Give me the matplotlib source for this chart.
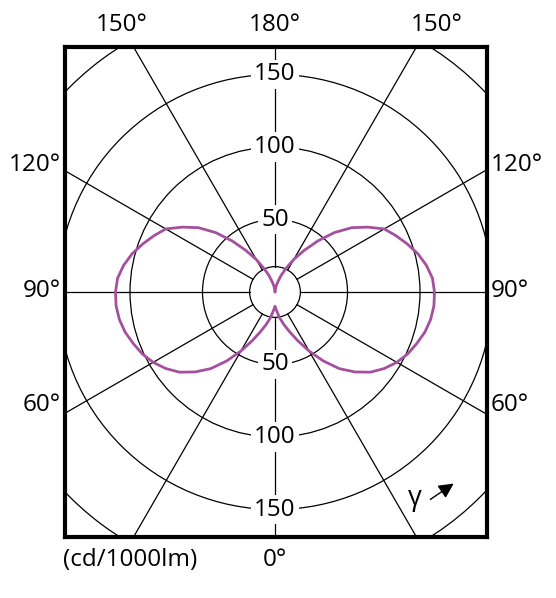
"""
Polar light distribution curve (cd/1000lm) drawn in a square frame
"""

import numpy as np
import matplotlib
matplotlib.use("Agg")
import matplotlib.pyplot as plt
from matplotlib.patches import Circle

plt.rcParams['font.family'] = ['Open Sans', 'DejaVu Sans']

# gamma measured from straight down (0) to straight up (180)
gamma_deg = [0, 5, 10, 15, 20, 25, 30, 35, 40, 45, 50, 55, 60, 65, 70, 75, 80, 85, 90,
             95, 100, 105, 110, 115, 120, 125, 130, 135, 140, 145, 150, 155, 160, 165,
             170, 175, 180]
intensity = [10, 13, 18, 23, 29, 37, 47, 58, 69, 78, 86, 92, 97, 101, 104, 107, 109, 110, 110,
             109, 106, 102, 97, 92, 87, 78, 69, 58, 46, 35, 26, 18, 12, 7,
             4, 1, 0]

ring_values = [50, 100, 150, 200]
ring_labels = ['50', '100', '150']
spoke_angles = [0, 30, 60, 90, 120, 150, 180]
angle_labels = ['0°', '60°', '90°', '120°', '150°', '180°']
unit_label = '(cd/1000lm)'

hub_radius = 17.5
curve_color = '#a5509f'
fs = 17.5

fig = plt.figure(figsize=(5.56, 5.98), dpi=100)
ax = fig.add_axes([65 / 556, 61 / 598, 422 / 556, 490 / 598])
scale = 1.45  # px per cd
ax.set_xlim(-210 / scale, 212 / scale)
ax.set_ylim(-245 / scale, 245 / scale)
ax.set_xticks([])
ax.set_yticks([])
for sp in ax.spines.values():
    sp.set_linewidth(3.0)
    sp.set_zorder(10)

# rings
for r in ring_values + [hub_radius]:
    ax.add_patch(Circle((0, 0), r, fill=False, lw=0.9, color='black', zorder=2))

# spokes from the hub outward
far = 400
for a in spoke_angles:
    t = np.radians(a)
    for side in ([1, -1] if 0 < a < 180 else [1]):
        dx, dy = side * np.sin(t), -np.cos(t)
        ax.plot([hub_radius * dx, far * dx], [hub_radius * dy, far * dy],
                color='black', lw=0.9, zorder=2)

# intensity curve, mirrored on both sides
g = np.radians(gamma_deg)
I = np.array(intensity, dtype=float)
xr = I * np.sin(g)
yr = -I * np.cos(g)
for sgn in (1, -1):
    ax.plot(sgn * xr, yr, color=curve_color, lw=2.0, zorder=5,
            solid_capstyle='round', solid_joinstyle='round')

# ring labels on the vertical axis
for lab, r in zip(ring_labels, ring_values):
    for s in (1, -1):
        ax.text(0, s * r, lab, ha='center', va='center', fontsize=fs, zorder=6,
                bbox=dict(boxstyle='square,pad=0.12', fc='white', ec='none'))

# angle labels around the frame
ytop = 267 / scale
ax.text(0, ytop, angle_labels[5], ha='center', va='center', fontsize=fs, clip_on=False)
ax.text(0, -268 / scale, angle_labels[0], ha='center', va='center', fontsize=fs, clip_on=False)
ax.text(-153 / scale, ytop, angle_labels[4], ha='center', va='center', fontsize=fs, clip_on=False)
ax.text(162 / scale, ytop, angle_labels[4], ha='center', va='center', fontsize=fs, clip_on=False)
side_rows = [(angle_labels[3], 127), (angle_labels[2], 1), (angle_labels[1], -113)]
for lab, ypx in side_rows:
    ax.text(-214 / scale, ypx / scale, lab, ha='right', va='center', fontsize=fs, clip_on=False)
    ax.text(216 / scale, ypx / scale, lab, ha='left', va='center', fontsize=fs, clip_on=False)
ax.text(-145 / scale, -268 / scale, unit_label, ha='center', va='center', fontsize=fs,
        clip_on=False)

# gamma direction marker
ax.text(140 / scale, -206 / scale, 'γ', ha='center', va='center', fontsize=fs + 2)
ax.annotate('', xy=(181 / scale, -190 / scale), xytext=(153 / scale, -209 / scale),
            arrowprops=dict(arrowstyle='-|>,head_length=0.9,head_width=0.45',
                            color='black', lw=1.0))

fig.savefig('out.png', dpi=100)
